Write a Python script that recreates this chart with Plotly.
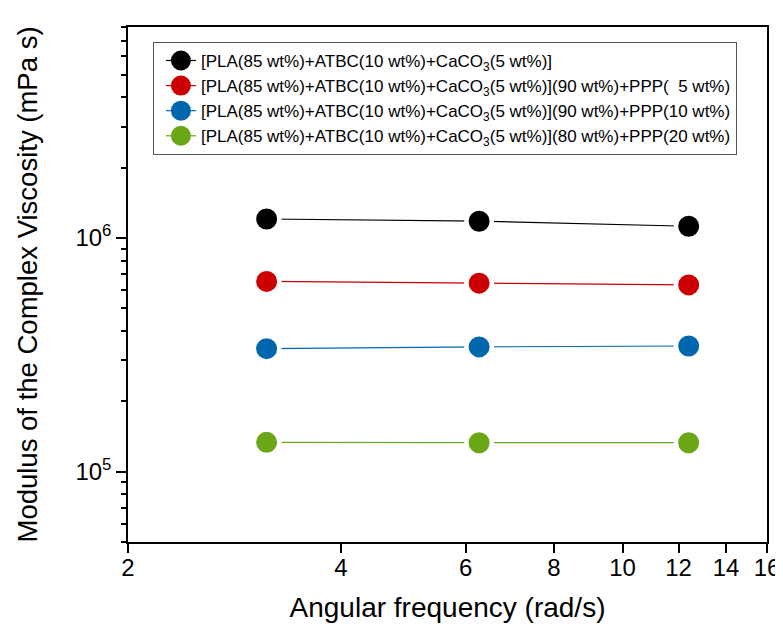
import plotly.graph_objects as go

# ---- data ----
freq = [3.14, 6.27, 12.4]  # rad/s
series_names = [
    "[PLA(85 wt%)+ATBC(10 wt%)+CaCO<sub>3</sub>(5 wt%)]",
    "[PLA(85 wt%)+ATBC(10 wt%)+CaCO<sub>3</sub>(5 wt%)](90 wt%)+PPP(\u00a0\u00a05 wt%)",
    "[PLA(85 wt%)+ATBC(10 wt%)+CaCO<sub>3</sub>(5 wt%)](90 wt%)+PPP(10 wt%)",
    "[PLA(85 wt%)+ATBC(10 wt%)+CaCO<sub>3</sub>(5 wt%)](80 wt%)+PPP(20 wt%)",
]
visc_ref = [1.206e6, 1.180e6, 1.123e6]
visc_ppp5 = [6.52e5, 6.41e5, 6.30e5]
visc_ppp10 = [3.36e5, 3.42e5, 3.45e5]
visc_ppp20 = [1.335e5, 1.33e5, 1.33e5]
colors = ["#000000", "#CC0000", "#0066AD", "#6AA616"]

x_tickvals = [2, 4, 6, 8, 10, 12, 14, 16]
y_tickvals = [1e5, 1e6]
y_ticktext = ["10<sup>5</sup>", "10<sup>6</sup>"]
y_minorvals = [5e4, 6e4, 7e4, 8e4, 9e4, 2e5, 3e5, 4e5, 5e5, 6e5, 7e5, 8e5, 9e5,
               2e6, 3e6, 4e6, 5e6, 6e6, 7e6, 8e6]

FONT = "Liberation Sans, Arial, sans-serif"

fig = go.Figure()
all_series = [visc_ref, visc_ppp5, visc_ppp10, visc_ppp20]
for name, vals, col in zip(series_names, all_series, colors):
    # data trace: marker with white ring gives the gap between line and symbol
    fig.add_trace(go.Scatter(
        x=freq, y=vals, mode="lines+markers", name=name, showlegend=False,
        line=dict(color=col, width=1.2),
        marker=dict(symbol="circle", size=25.5, color=col,
                    line=dict(color="white", width=4.5)),
    ))
    # legend entry
    fig.add_trace(go.Scatter(
        x=[None], y=[None], mode="lines+markers", name=name,
        line=dict(color=col, width=1.2),
        marker=dict(symbol="circle", size=16, color=col,
                    line=dict(color=col, width=4)),
    ))

# the page body adds an 8 px margin around the figure
fig.update_layout(
    width=775, height=618,
    margin=dict(l=120, r=16, t=19, b=84),
    paper_bgcolor="white", plot_bgcolor="white",
    font=dict(family=FONT, color="black"),
    legend=dict(
        x=0.039, y=0.971, xanchor="left", yanchor="top",
        bordercolor="#555555", borderwidth=1, bgcolor="white",
        font=dict(family=FONT, size=17, color="black"),
        itemsizing="trace", tracegroupgap=0, indentation=7,
    ),
)
fig.update_xaxes(
    type="log", range=[0.30103, 1.20412], automargin=False,
    tickmode="array", tickvals=x_tickvals,
    ticks="outside", ticklen=9, tickwidth=1.5, tickcolor="black",
    ticklabelstandoff=-6,
    showline=True, linewidth=1.5, linecolor="black", mirror=True,
    showgrid=False, zeroline=False,
    tickfont=dict(size=24, family=FONT),
    title=dict(text="Angular frequency (rad/s)", font=dict(size=28, family=FONT), standoff=18),
)
fig.update_yaxes(
    type="log", range=[4.69897, 6.90309], automargin=False,
    tickmode="array", tickvals=y_tickvals, ticktext=y_ticktext,
    ticks="outside", ticklen=10, tickwidth=1.5, tickcolor="black",
    minor=dict(tickmode="array", tickvals=y_minorvals, ticks="outside",
               ticklen=5, tickwidth=1.5, tickcolor="black", showgrid=False),
    showline=True, linewidth=1.5, linecolor="black", mirror=True,
    showgrid=False, zeroline=False,
    tickfont=dict(size=24, family=FONT),
    title=dict(text="Modulus of the Complex Viscosity (mPa s)", font=dict(size=27.5, family=FONT), standoff=30),
)

fig.write_html("out.html")
